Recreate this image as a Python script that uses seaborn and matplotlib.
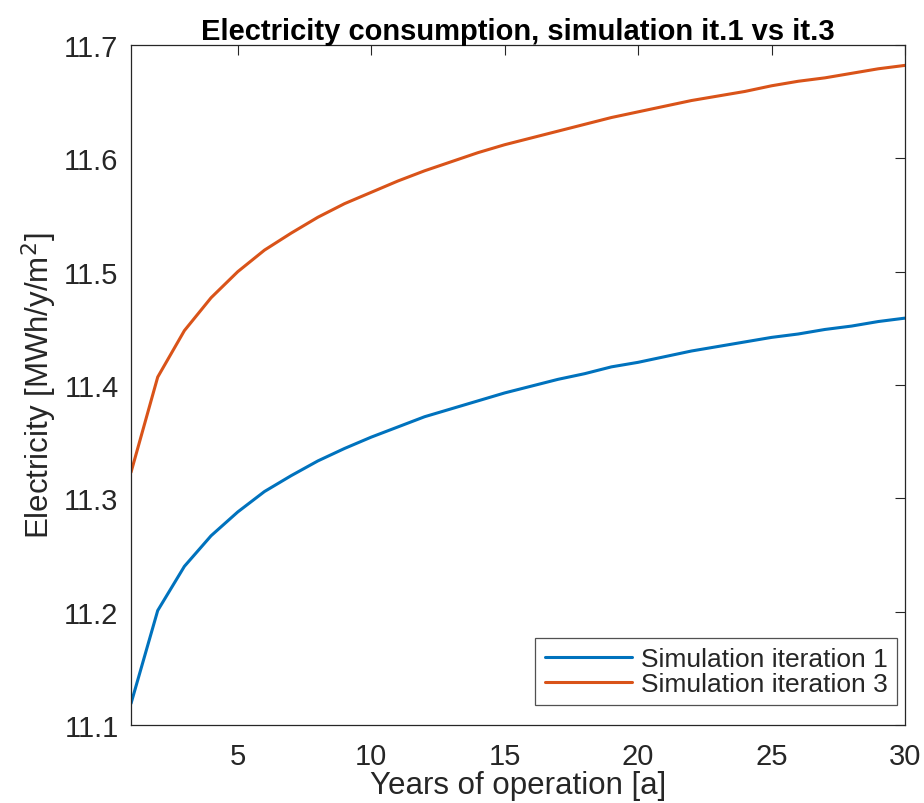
import matplotlib
matplotlib.use("Agg")
import matplotlib.pyplot as plt
import seaborn as sns
import pandas as pd

years = list(range(1, 31))
iter1 = [11.119, 11.201, 11.240, 11.267, 11.288, 11.306, 11.320, 11.333, 11.344, 11.354,
         11.363, 11.372, 11.379, 11.386, 11.393, 11.399, 11.405, 11.410, 11.416, 11.420,
         11.425, 11.430, 11.434, 11.438, 11.442, 11.445, 11.449, 11.452, 11.456, 11.459]
iter3 = [11.323, 11.407, 11.448, 11.477, 11.500, 11.519, 11.534, 11.548, 11.560, 11.570,
         11.580, 11.589, 11.597, 11.605, 11.612, 11.618, 11.624, 11.630, 11.636, 11.641,
         11.646, 11.651, 11.655, 11.659, 11.664, 11.668, 11.671, 11.675, 11.679, 11.682]
series_names = ["Simulation iteration 1", "Simulation iteration 3"]
xticks = [5, 10, 15, 20, 25, 30]
yticks = [11.1, 11.2, 11.3, 11.4, 11.5, 11.6, 11.7]

df = pd.DataFrame({
    "year": years * 2,
    "value": iter1 + iter3,
    "series": [series_names[0]] * len(years) + [series_names[1]] * len(years),
})

sns.set_theme(style="white")
plt.rcParams["font.family"] = ["Liberation Sans", "DejaVu Sans"]

fig = plt.figure(figsize=(9.24, 8.04), dpi=100)
ax = fig.add_axes([0.1418, 0.097, 0.8376, 0.8458])

sns.lineplot(data=df, x="year", y="value", hue="series",
             palette=["#0072BD", "#D95319"], linewidth=2.2, ax=ax)

dark = "#262626"
ax.set_xlim(1, 30)
ax.set_ylim(11.1, 11.7)
ax.set_xticks(xticks)
ax.set_yticks(yticks)
ax.set_yticklabels([f"{v:.1f}" for v in yticks])
ax.tick_params(direction="in", length=7, width=0.8, colors=dark, labelsize=21,
               top=True, right=True, labeltop=False, labelright=False)
ax.tick_params(axis="x", pad=12)
ax.tick_params(axis="y", pad=9)
for s in ax.spines.values():
    s.set_color(dark)
    s.set_linewidth(0.9)
    s.set_visible(True)

ax.set_xlabel("Years of operation [a]", fontsize=22.5, color=dark, labelpad=0)
ax.set_ylabel("Electricity [MWh/y/m$^2$]", fontsize=22.5, color=dark, labelpad=4)
ax.set_title("Electricity consumption, simulation it.1 vs it.3", fontsize=21,
             fontweight="bold", color="black", pad=4)

leg = ax.legend(loc="lower right", bbox_to_anchor=(897 / 924, 1 - 706 / 804),
                bbox_transform=fig.transFigure, borderaxespad=0,
                fontsize=19, frameon=True, fancybox=False,
                edgecolor=dark, handlelength=3.3, borderpad=0.35, labelspacing=0.02,
                handletextpad=0.35)
leg.get_frame().set_linewidth(0.9)
for t in leg.get_texts():
    t.set_color(dark)

fig.savefig("out.png", dpi=100, facecolor="white")
